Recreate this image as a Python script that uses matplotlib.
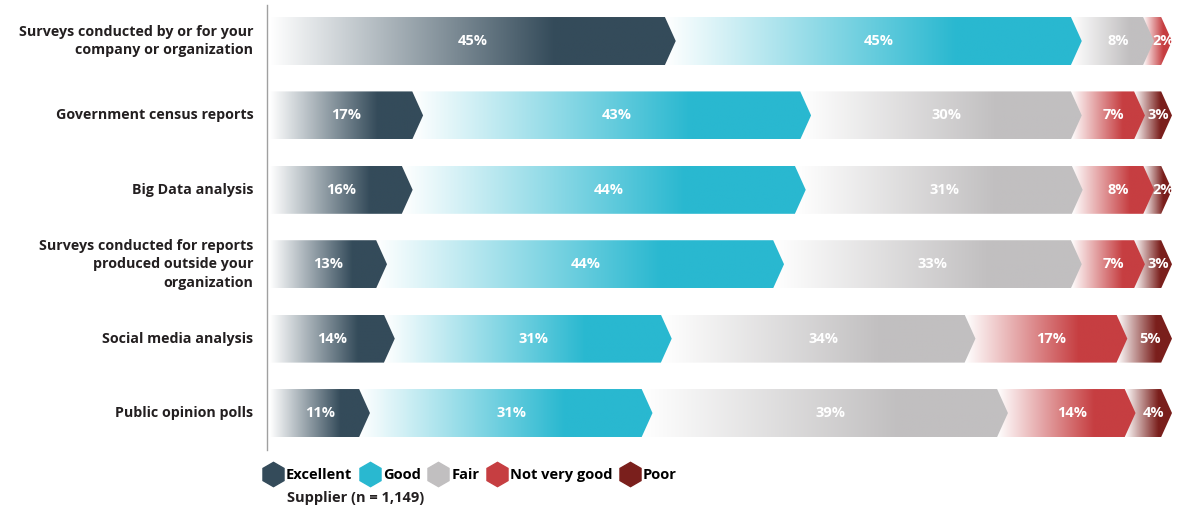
import matplotlib.pyplot as plt
import numpy as np
from matplotlib.patches import Polygon
from matplotlib.lines import Line2D
from matplotlib.colors import to_rgb

plt.rcParams['font.family'] = ['Open Sans', 'DejaVu Sans']

categories = [
    'Surveys conducted by or for your\ncompany or organization',
    'Government census reports',
    'Big Data analysis',
    'Surveys conducted for reports\nproduced outside your\norganization',
    'Social media analysis',
    'Public opinion polls',
]
ratings = ['Excellent', 'Good', 'Fair', 'Not very good', 'Poor']
excellent = [45, 17, 16, 13, 14, 11]
good = [45, 43, 44, 44, 31, 31]
fair = [8, 30, 31, 33, 34, 39]
not_very_good = [2, 7, 8, 7, 17, 14]
poor = [0, 3, 2, 3, 5, 4]
colors = ['#344b5a', '#29b8d0', '#c1bfc0', '#c63e41', '#7a1f1c']

# first row shows only four segments (no "Poor" label)
series = [excellent, good, fair, not_very_good, poor]

fig = plt.figure(figsize=(11.82, 5.11), dpi=100)
ax = fig.add_axes([267 / 1182, 1 - 450 / 511, (1172 - 267) / 1182, 445 / 511])

bar_h = 0.645
tip = 1.2  # depth of the arrow point


def gradient_img(color, n=256):
    t = np.linspace(0, 1, n)
    f = np.clip(t / 0.7, 0, 1)[:, None]
    c = np.array(to_rgb(color))
    rgb = (1 - f) * np.ones(3) + f * c
    return rgb[None, :, :]


for i, cat in enumerate(categories):
    vals = [s[i] for s in series]
    total = sum(vals)
    bounds = np.cumsum([0] + vals) / total * 100
    segs = [(k, vals[k]) for k in range(len(vals)) if vals[k] > 0]
    # draw from last to first so each arrow point sits on the next segment
    for k, v in reversed(segs):
        x0 = bounds[k] - (tip if k > 0 else 0)
        x1 = bounds[k + 1]
        yt, yb = i - bar_h / 2, i + bar_h / 2
        poly = Polygon([(x0, yt), (x1 - tip, yt), (x1, i), (x1 - tip, yb), (x0, yb)],
                       closed=True, facecolor='none', edgecolor='none', zorder=10 - k)
        ax.add_patch(poly)
        im = ax.imshow(gradient_img(colors[k]), extent=[x0, x1, yb, yt],
                       aspect='auto', zorder=10 - k, interpolation='bilinear')
        im.set_clip_path(poly)
        ax.text((bounds[k] + bounds[k + 1]) / 2, i, f'{v}%', ha='center', va='center',
                color='white', fontsize=10.5, fontweight='bold', zorder=20)
    ax.text(-1.8, i, cat, ha='right', va='center', fontsize=10.3, fontweight='bold',
            color='#231f20', linespacing=1.42)

ax.set_xlim(-0.3, 100)
ax.set_ylim(5 + 0.497, -0.484)
ax.set_xticks([])
ax.set_yticks([])
for s in ['top', 'right', 'bottom']:
    ax.spines[s].set_visible(False)
ax.spines['left'].set_color('#a0a0a0')
ax.spines['left'].set_linewidth(1.0)

handles = [Line2D([], [], marker='h', ls='', markersize=17.5, color=c) for c in colors]
fig.legend(handles, ratings, loc='upper left', bbox_to_anchor=(264 / 1182, 1 - 468 / 511),
           ncol=5, frameon=False, handlelength=1.2, handletextpad=0.3, columnspacing=0.6,
           borderpad=0, borderaxespad=0, prop={'weight': 'bold', 'size': 10.5})
fig.text(287 / 1182, 1 - 498 / 511, 'Supplier (n = 1,149)', ha='left', va='center',
         fontsize=10.5, fontweight='bold', color='#231f20')

fig.savefig('out.png', dpi=100)
